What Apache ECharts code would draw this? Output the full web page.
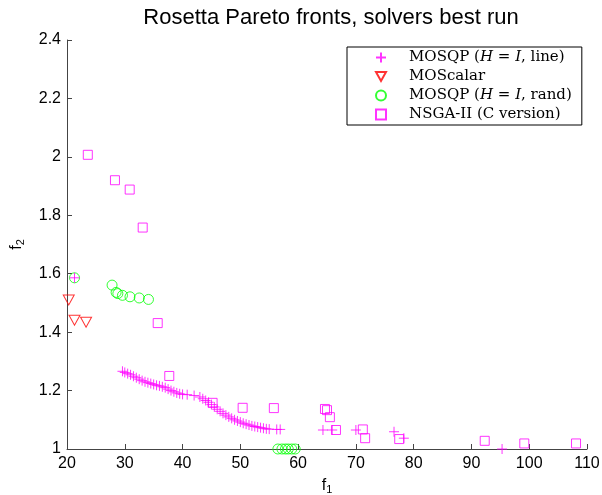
<!DOCTYPE html>
<html>
<head>
<meta charset="utf-8">
<script src="https://cdn.jsdelivr.net/npm/echarts@6/dist/echarts.min.js"></script>
<style>
  html, body { margin: 0; padding: 0; background: #fff; }
  #chart { width: 602px; height: 495px; }
</style>
</head>
<body>
<div id="chart"></div>
<script>
// ---- data ----
const titleText = 'Rosetta Pareto fronts, solvers best run';
const seriesNames = ['MOSQP (H = I, line)', 'MOScalar', 'MOSQP (H = I, rand)', 'NSGA-II (C version)'];
const xTicks = { min: 20, max: 110, step: 10 };
const yTicks = { min: 1, max: 2.4, step: 0.2 };

const mosqpLine = [
  [21.3, 1.586],
  [29.6, 1.266], [30.0, 1.262], [30.5, 1.258], [31.0, 1.254], [31.5, 1.249],
  [32.0, 1.244], [32.5, 1.239], [33.0, 1.234], [33.5, 1.230], [34.0, 1.227],
  [34.5, 1.224], [35.0, 1.221], [35.5, 1.218], [36.0, 1.216], [36.5, 1.213],
  [37.0, 1.210], [37.5, 1.205], [38.0, 1.200], [38.5, 1.196], [39.0, 1.192],
  [39.5, 1.189], [40.0, 1.187], [40.8, 1.186], [42.0, 1.183], [43.0, 1.178],
  [43.5, 1.172], [44.0, 1.166], [44.5, 1.160], [45.0, 1.152], [45.5, 1.144],
  [46.0, 1.136], [46.5, 1.129], [47.0, 1.122], [47.5, 1.116], [48.0, 1.110],
  [48.5, 1.105], [49.0, 1.100], [49.5, 1.096], [50.0, 1.092], [50.5, 1.088],
  [51.0, 1.085], [51.5, 1.082], [52.0, 1.079], [52.5, 1.077], [53.0, 1.075],
  [53.5, 1.073], [54.0, 1.071], [54.5, 1.069], [55.0, 1.068],
  [56.3, 1.067], [56.9, 1.067],
  [64.3, 1.065], [65.9, 1.065], [70.0, 1.065], [76.6, 1.059], [78.3, 1.037],
  [95.3, 1.000]
];
const moscalar = [[20.3, 1.510], [21.3, 1.441], [23.3, 1.434]];
const mosqpRand = [
  [21.3, 1.586], [27.8, 1.561], [28.5, 1.536], [28.8, 1.532], [29.6, 1.526],
  [30.9, 1.521], [32.5, 1.517], [34.1, 1.512],
  [56.5, 1.000], [57.2, 1.000], [57.8, 1.000], [58.3, 1.000], [58.9, 1.000], [59.5, 1.000]
];
const nsga2 = [
  [23.6, 2.007], [28.3, 1.920], [30.85, 1.888], [33.1, 1.758], [35.7, 1.431],
  [37.7, 1.250], [45.2, 1.158], [50.4, 1.141], [55.8, 1.140],
  [64.65, 1.137], [65.0, 1.133], [65.5, 1.109], [66.55, 1.065],
  [71.2, 1.067], [71.6, 1.037], [77.5, 1.034],
  [92.3, 1.028], [99.15, 1.019], [108.1, 1.019]
];

// ---- chart ----
const axisColor = '#444';
const plusPath = 'path://M0,5L10,5M5,0L5,10';
const triDownPath = 'path://M0,0L10,0L5,9Z';

const legendLabels = {
  'MOSQP (H = I, line)': '{s|}MOSQP ({i|H} = {i|I}, line)',
  'MOScalar': '{s|}MOScalar',
  'MOSQP (H = I, rand)': '{s|}MOSQP ({i|H} = {i|I}, rand)',
  'NSGA-II (C version)': '{s|}NSGA-II (C version)'
};

const chart = echarts.init(document.getElementById('chart'), null, { renderer: 'canvas' });
chart.setOption({
  animation: false,
  backgroundColor: '#fff',
  title: {
    text: titleText,
    left: 326,
    textAlign: 'center',
    top: 2,
    textStyle: { fontFamily: 'Liberation Sans', fontSize: 22, fontWeight: 'normal', color: '#000' }
  },
  legend: {
    orient: 'vertical',
    left: 347,
    top: 47,
    padding: [3, 10, 3, 28],
    itemGap: 4,
    itemWidth: 10,
    itemHeight: 10,
    borderColor: '#000',
    borderWidth: 1,
    backgroundColor: '#fff',
    data: seriesNames,
    formatter: function (name) { return legendLabels[name]; },
    textStyle: {
      fontFamily: 'DejaVu Serif', fontSize: 15, color: '#000', lineHeight: 14,
      rich: {
        s: { width: 18 },
        i: { fontStyle: 'italic', fontFamily: 'DejaVu Serif', fontSize: 15 }
      }
    }
  },
  grid: { left: 67, right: 15, top: 40, bottom: 46, containLabel: false, outerBoundsMode: 'none' },
  xAxis: {
    type: 'value',
    min: xTicks.min, max: xTicks.max, interval: xTicks.step,
    name: 'f{sub|1}',
    nameLocation: 'middle',
    nameGap: 27,
    nameTextStyle: {
      fontFamily: 'Liberation Sans', fontSize: 16, color: '#000',
      rich: { sub: { fontSize: 11, verticalAlign: 'bottom', padding: [8, 0, 0, 0], fontFamily: 'Liberation Sans', color: '#000' } }
    },
    axisLine: { show: true, onZero: false, lineStyle: { color: axisColor, width: 1 } },
    axisTick: { show: true, inside: true, length: 5, lineStyle: { color: axisColor } },
    axisLabel: { margin: 7, fontFamily: 'Liberation Sans', fontSize: 16, color: '#000' },
    splitLine: { show: false }
  },
  yAxis: {
    type: 'value',
    min: yTicks.min, max: yTicks.max, interval: yTicks.step,
    name: 'f{sub|2}',
    nameLocation: 'middle',
    nameGap: 41,
    nameRotate: 90,
    nameTextStyle: {
      fontFamily: 'Liberation Sans', fontSize: 16, color: '#000',
      rich: { sub: { fontSize: 11, verticalAlign: 'bottom', padding: [8, 0, 0, 0], fontFamily: 'Liberation Sans', color: '#000' } }
    },
    axisLine: { show: true, onZero: false, lineStyle: { color: axisColor, width: 1 } },
    axisTick: { show: true, inside: true, length: 5, lineStyle: { color: axisColor } },
    axisLabel: { margin: 6, fontFamily: 'Liberation Sans', fontSize: 16, color: '#000' },
    splitLine: { show: false }
  },
  series: [
    {
      name: seriesNames[0], type: 'scatter', data: mosqpLine, clip: false,
      symbol: plusPath, symbolSize: 10, z: 3,
      itemStyle: { color: 'rgba(0,0,0,0)', borderColor: '#ff00ff', borderWidth: 1 }
    },
    {
      name: seriesNames[1], type: 'scatter', data: moscalar, clip: false,
      symbol: triDownPath, symbolSize: [11, 10], z: 2,
      itemStyle: { color: 'rgba(0,0,0,0)', borderColor: '#ff0000', borderWidth: 1 }
    },
    {
      name: seriesNames[2], type: 'scatter', data: mosqpRand, clip: false,
      symbol: 'circle', symbolSize: 10, z: 2,
      itemStyle: { color: 'rgba(0,0,0,0)', borderColor: '#00ff00', borderWidth: 1 }
    },
    {
      name: seriesNames[3], type: 'scatter', data: nsga2, clip: false,
      symbol: 'rect', symbolSize: 9, z: 4,
      itemStyle: { color: 'rgba(0,0,0,0)', borderColor: '#ff00ff', borderWidth: 1 }
    }
  ]
});
</script>
</body>
</html>
